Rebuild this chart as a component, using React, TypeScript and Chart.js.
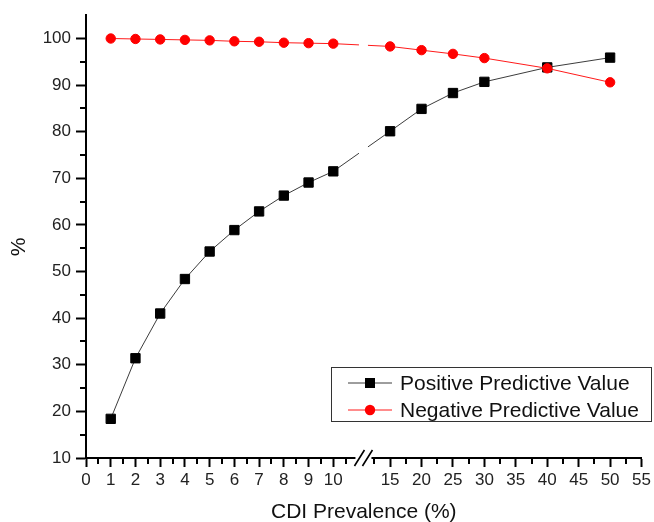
import React, { useEffect, useRef } from 'react';
import { Chart, registerables } from 'chart.js';

Chart.register(...registerables);

// ---- data ----
const PREVALENCE = [1, 2, 3, 4, 5, 6, 7, 8, 9, 10, 15, 20, 25, 30, 40, 50];
const PPV = [18.4, 31.4, 41.0, 48.4, 54.3, 58.9, 62.9, 66.3, 69.1, 71.5, 80.1, 84.9, 88.3, 90.7, 93.8, 95.9];
const NPV = [100.0, 99.9, 99.8, 99.7, 99.6, 99.4, 99.3, 99.1, 99.0, 98.9, 98.3, 97.5, 96.7, 95.8, 93.6, 90.6];
const X_MAJOR_TICKS = [0, 1, 2, 3, 4, 5, 6, 7, 8, 9, 10, 15, 20, 25, 30, 35, 40, 45, 50, 55];
const X_MINOR_TICKS = [0.5, 1.5, 2.5, 3.5, 4.5, 5.5, 6.5, 7.5, 8.5, 9.5, 10.5, 12.5, 17.5, 22.5, 27.5, 32.5, 37.5, 42.5, 47.5, 52.5];
const Y_MAJOR_TICKS = [10, 20, 30, 40, 50, 60, 70, 80, 90, 100];
const Y_MINOR_TICKS = [15, 25, 35, 45, 55, 65, 75, 85, 95];
const SERIES_LABELS = ['Positive Predictive Value', 'Negative Predictive Value'];
const X_TITLE = 'CDI Prevalence (%)';
const Y_TITLE = '%';

// ---- broken x axis mapping (left segment 0..10.5 full scale, right segment compressed) ----
const LEFT_END = 10.5;
const RIGHT_START = 12.5;
const GAP = 1.162;
const RIGHT_FACTOR = 0.2542;
const BREAK_POS = 11.22;
const toPos = (v: number) => (v <= LEFT_END ? v : LEFT_END + GAP + (v - RIGHT_START) * RIGHT_FACTOR);

const FONT = "'Liberation Sans', Arial, Helvetica, sans-serif";

const brokenAxisPlugin = {
  id: 'brokenAxis',
  beforeDatasetsDraw(chart: any) {
    const { ctx, chartArea, scales } = chart;
    const cx = scales.x.getPixelForValue(BREAK_POS);
    ctx.save();
    ctx.beginPath();
    ctx.rect(0, 0, chart.width, chart.height);
    ctx.rect(cx - 4.5, chartArea.top - 20, 9, chartArea.bottom - chartArea.top + 20);
    ctx.clip('evenodd');
  },
  afterDatasetsDraw(chart: any) {
    chart.ctx.restore();
  },
  afterDraw(chart: any) {
    const { ctx, chartArea, scales } = chart;
    const xs = scales.x;
    const ys = scales.y;
    ctx.save();
    // minor ticks
    ctx.strokeStyle = '#000';
    ctx.lineWidth = 2;
    ctx.beginPath();
    X_MINOR_TICKS.forEach((v) => {
      const px = Math.round(xs.getPixelForValue(toPos(v)));
      ctx.moveTo(px, chartArea.bottom);
      ctx.lineTo(px, chartArea.bottom + 6);
    });
    Y_MINOR_TICKS.forEach((v) => {
      const py = Math.round(ys.getPixelForValue(v));
      ctx.moveTo(chartArea.left, py);
      ctx.lineTo(chartArea.left - 6, py);
    });
    ctx.stroke();

    // axis break
    const cx = xs.getPixelForValue(BREAK_POS);
    const by = chartArea.bottom;
    ctx.fillStyle = '#fff';
    ctx.fillRect(cx - 8, by - 3, 16, 6);
    ctx.strokeStyle = '#000';
    ctx.lineWidth = 1.6;
    ctx.beginPath();
    [-4, 4].forEach((d) => {
      ctx.moveTo(cx + d - 5, by + 8);
      ctx.lineTo(cx + d + 5, by - 8);
    });
    ctx.stroke();

    // y title
    ctx.save();
    ctx.translate(19.5, 247);
    ctx.rotate(-Math.PI / 2);
    ctx.fillStyle = '#111';
    ctx.font = `21px ${FONT}`;
    ctx.textAlign = 'center';
    ctx.textBaseline = 'middle';
    ctx.fillText(Y_TITLE, 0, 0);
    ctx.restore();

    // legend
    const bx = 331.5, bTop = 367.5, bw = 320, bh = 54;
    ctx.strokeStyle = '#333';
    ctx.lineWidth = 1;
    ctx.strokeRect(bx, bTop, bw, bh);
    const rows = [383, 410];
    chart.data.datasets.forEach((ds: any, i: number) => {
      const y = rows[i];
      ctx.strokeStyle = ds.borderColor;
      ctx.lineWidth = 1;
      ctx.beginPath();
      ctx.moveTo(348, y);
      ctx.lineTo(392, y);
      ctx.stroke();
      ctx.fillStyle = ds.pointBackgroundColor;
      if (ds.pointStyle === 'rect') {
        ctx.fillRect(365, y - 5, 10, 10);
      } else {
        ctx.beginPath();
        ctx.arc(370, y, 5.2, 0, Math.PI * 2);
        ctx.fill();
      }
      ctx.fillStyle = '#111';
      ctx.font = `21px ${FONT}`;
      ctx.textAlign = 'left';
      ctx.textBaseline = 'middle';
      ctx.fillText(ds.label, 400, y + 1);
    });
    ctx.restore();
  },
};

export default function App() {
  const canvasRef = useRef<HTMLCanvasElement | null>(null);

  useEffect(() => {
    const canvas = canvasRef.current;
    if (!canvas) return;
    const chart = new Chart(canvas, {
      type: 'line',
      data: {
        datasets: [
          {
            label: SERIES_LABELS[0],
            data: PREVALENCE.map((x, i) => ({ x: toPos(x), y: PPV[i] })),
            borderColor: '#3c3c3c',
            borderWidth: 1,
            pointStyle: 'rect',
            pointRadius: 6.6,
            pointBackgroundColor: '#000',
            pointBorderColor: '#000',
            pointBorderWidth: 1,
            order: 1,
          },
          {
            label: SERIES_LABELS[1],
            data: PREVALENCE.map((x, i) => ({ x: toPos(x), y: NPV[i] })),
            borderColor: '#ff1a1a',
            borderWidth: 1,
            pointStyle: 'circle',
            pointRadius: 4.7,
            pointBackgroundColor: '#ff0000',
            pointBorderColor: '#ff0000',
            pointBorderWidth: 1,
            order: 0,
          },
        ],
      },
      options: {
        responsive: false,
        animation: false,
        events: [],
        layout: { padding: { top: 11.5, right: 11, bottom: 0, left: 0 } },
        plugins: { legend: { display: false }, tooltip: { enabled: false } },
        scales: {
          x: {
            type: 'linear',
            min: 0,
            max: toPos(55),
            afterBuildTicks: (scale: any) => {
              scale.ticks = X_MAJOR_TICKS.map((v) => ({ value: toPos(v) }));
            },
            afterFit: (scale: any) => {
              scale.height = 64;
            },
            ticks: {
              autoSkip: false,
              maxRotation: 0,
              padding: 3,
              color: '#222',
              font: { size: 17, family: FONT },
              callback: (_v: any, i: number) => String(X_MAJOR_TICKS[i]),
            },
            grid: { drawOnChartArea: false, drawTicks: true, tickLength: 9, tickWidth: 2, tickColor: '#000' },
            border: { display: true, color: '#000', width: 2 },
            title: {
              display: true,
              text: X_TITLE,
              color: '#111',
              font: { size: 21, family: FONT, lineHeight: 0.9 },
              padding: 0,
            },
          },
          y: {
            type: 'linear',
            min: 10,
            max: 105,
            afterBuildTicks: (scale: any) => {
              scale.ticks = Y_MAJOR_TICKS.map((v) => ({ value: v }));
            },
            afterFit: (scale: any) => {
              scale.width = 86;
            },
            ticks: {
              padding: 5,
              color: '#222',
              font: { size: 17, family: FONT },
              callback: (v: any) => String(v),
            },
            grid: { drawOnChartArea: false, drawTicks: true, tickLength: 10, tickWidth: 2, tickColor: '#000' },
            border: { display: true, color: '#000', width: 2 },
          },
        },
      },
      plugins: [brokenAxisPlugin],
    } as any);
    return () => chart.destroy();
  }, []);

  return (
    <div style={{ position: 'absolute', left: 0, top: 0, width: 654, height: 522, background: '#fff' }}>
      <canvas ref={canvasRef} width={654} height={522} />
    </div>
  );
}
